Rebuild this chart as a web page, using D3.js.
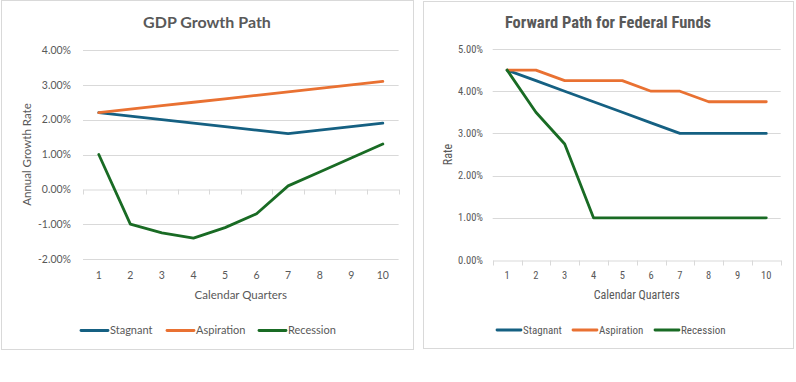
<!DOCTYPE html>
<html>
<head>
<meta charset="utf-8">
<script src="https://cdn.jsdelivr.net/npm/d3@7"></script>
<style>
  html, body { margin: 0; padding: 0; background: #ffffff; }
  svg { display: block; }
</style>
</head>
<body>
<svg id="chart" width="796" height="382"></svg>
<script>
// ---------- DATA ----------
const quarters = [1, 2, 3, 4, 5, 6, 7, 8, 9, 10];
const seriesNames = ["Stagnant", "Aspiration", "Recession"];

// GDP Growth Path (annual growth rate, %)
const gdpStagnant   = [2.2, 2.1, 2.0, 1.9, 1.8, 1.7, 1.6, 1.7, 1.8, 1.9];
const gdpAspiration = [2.2, 2.3, 2.4, 2.5, 2.6, 2.7, 2.8, 2.9, 3.0, 3.1];
const gdpRecession  = [1.0, -1.0, -1.25, -1.4, -1.1, -0.7, 0.1, 0.5, 0.9, 1.3];
const gdpTicks = [-2, -1, 0, 1, 2, 3, 4];

// Forward Path for Federal Funds (rate, %)
const ffStagnant   = [4.5, 4.25, 4.0, 3.75, 3.5, 3.25, 3.0, 3.0, 3.0, 3.0];
const ffAspiration = [4.5, 4.5, 4.25, 4.25, 4.25, 4.0, 4.0, 3.75, 3.75, 3.75];
const ffRecession  = [4.5, 3.5, 2.75, 1.0, 1.0, 1.0, 1.0, 1.0, 1.0, 1.0];
const ffTicks = [0, 1, 2, 3, 4, 5];

const colors = ["#156082", "#E97132", "#196B24"];

// ---------- DRAW ----------
const svg = d3.select("#chart");
const fmt = v => v.toFixed(2) + "%";

function drawPanel(cfg) {
  const g = svg.append("g");
  // panel border
  g.append("rect")
    .attr("x", cfg.box[0] + 0.5).attr("y", cfg.box[1] + 0.5)
    .attr("width", cfg.box[2] - cfg.box[0]).attr("height", cfg.box[3] - cfg.box[1])
    .attr("fill", "#fff").attr("stroke", "#D9D9D9").attr("stroke-width", 1);

  const x = d3.scaleBand().domain(quarters).range([cfg.plot[0], cfg.plot[1]]);
  const xc = d => x(d) + x.bandwidth() / 2;
  const y = d3.scaleLinear().domain(cfg.domain).range([cfg.plot[3], cfg.plot[2]]);

  // gridlines
  g.append("g").selectAll("line").data(cfg.ticks.filter(t => t !== 0))
    .join("line")
    .attr("x1", cfg.plot[0]).attr("x2", cfg.plot[1])
    .attr("y1", d => Math.round(y(d)) + 0.5).attr("y2", d => Math.round(y(d)) + 0.5)
    .attr("stroke", "#D9D9D9").attr("stroke-width", 1);

  // y tick labels
  g.append("g").selectAll("text").data(cfg.ticks)
    .join("text")
    .attr("x", cfg.ylabX).attr("y", d => y(d))
    .attr("dy", "0.35em")
    .attr("text-anchor", "end")
    .attr("font-family", cfg.font).attr("font-size", cfg.tickSize)
    .attr("fill", "#595959")
    .text(fmt);

  // x axis (category axis crossing at 0)
  const axisY = Math.round(y(0)) + 0.5;
  const xAxis = d3.axisBottom(x).tickSize(0).tickFormat("");
  const ax = g.append("g").attr("transform", `translate(0,${axisY})`).call(xAxis);
  ax.select(".domain").attr("stroke", "#D9D9D9");
  const edges = quarters.map(q => x(q)).concat([cfg.plot[1]]);
  g.append("g").selectAll("line").data(edges).join("line")
    .attr("x1", d => Math.round(d) + 0.5).attr("x2", d => Math.round(d) + 0.5)
    .attr("y1", axisY).attr("y2", axisY + 5)
    .attr("stroke", "#D9D9D9");

  // x tick labels (low position)
  g.append("g").selectAll("text").data(quarters).join("text")
    .attr("x", d => xc(d)).attr("y", cfg.xlabY)
    .attr("dy", "0.35em")
    .attr("text-anchor", "middle")
    .attr("font-family", cfg.font).attr("font-size", cfg.tickSize)
    .attr("fill", "#595959")
    .text(d => d);

  // lines
  const line = d3.line().x((d, i) => xc(quarters[i])).y(d => y(d));
  cfg.series.forEach((s, i) => {
    g.append("path").datum(s)
      .attr("d", line)
      .attr("fill", "none")
      .attr("stroke", colors[i])
      .attr("stroke-width", 2.8)
      .attr("stroke-linejoin", "round")
      .attr("stroke-linecap", "round");
  });

  // title
  g.append("text")
    .attr("x", (cfg.box[0] + cfg.box[2]) / 2).attr("y", cfg.titleY)
    .attr("text-anchor", "middle")
    .attr("font-family", cfg.font).attr("font-size", cfg.titleSize)
    .attr("font-weight", "bold").attr("fill", "#595959")
    .text(cfg.title);

  // x axis title
  g.append("text")
    .attr("x", (cfg.plot[0] + cfg.plot[1]) / 2).attr("y", cfg.xTitleY)
    .attr("dy", "0.35em")
    .attr("text-anchor", "middle")
    .attr("font-family", cfg.font).attr("font-size", cfg.axTitleSize)
    .attr("fill", "#595959")
    .text("Calendar Quarters");

  // y axis title
  const cy = (cfg.plot[2] + cfg.plot[3]) / 2;
  g.append("text")
    .attr("transform", `translate(${cfg.yTitleX},${cy}) rotate(-90)`)
    .attr("dy", "0.35em")
    .attr("text-anchor", "middle")
    .attr("font-family", cfg.font).attr("font-size", cfg.axTitleSize)
    .attr("fill", "#595959")
    .text(cfg.yTitle);

  // legend
  const lg = g.append("g");
  seriesNames.forEach((name, i) => {
    const lx = cfg.legendX[i];
    lg.append("line")
      .attr("x1", lx).attr("x2", lx + cfg.legendLen)
      .attr("y1", cfg.legendY).attr("y2", cfg.legendY)
      .attr("stroke", colors[i]).attr("stroke-width", 2.8)
      .attr("stroke-linecap", "round");
    lg.append("text")
      .attr("x", lx + cfg.legendLen + 2).attr("y", cfg.legendY)
      .attr("dy", "0.35em")
      .attr("font-family", cfg.font).attr("font-size", cfg.legendSize)
      .attr("fill", "#595959")
      .text(name);
  });
}

drawPanel({
  box: [1, 0, 413, 349],
  plot: [83, 398.6, 50, 259],
  domain: [-2, 4],
  ticks: gdpTicks,
  series: [gdpStagnant, gdpAspiration, gdpRecession],
  font: "Lato, 'Open Sans', sans-serif",
  title: "GDP Growth Path",
  titleY: 27.5, titleSize: 16,
  tickSize: 10.5, axTitleSize: 11.5, legendSize: 11,
  ylabX: 71, xlabY: 275, xTitleY: 295,
  yTitle: "Annual Growth Rate", yTitleX: 27,
  legendX: [81, 167, 259], legendLen: 27, legendY: 330.5
});

drawPanel({
  box: [423, 1, 793, 348],
  plot: [492.7, 780.7, 49, 260],
  domain: [0, 5],
  ticks: ffTicks,
  series: [ffStagnant, ffAspiration, ffRecession],
  font: "'Liberation Sans Narrow', 'Roboto Condensed', Lato, sans-serif",
  title: "Forward Path for Federal Funds",
  titleY: 27.5, titleSize: 16.5,
  tickSize: 10.5, axTitleSize: 12, legendSize: 11,
  ylabX: 483, xlabY: 275.5, xTitleY: 295,
  yTitle: "Rate", yTitleX: 448,
  legendX: [497, 573, 655], legendLen: 24, legendY: 330
});
</script>
</body>
</html>
